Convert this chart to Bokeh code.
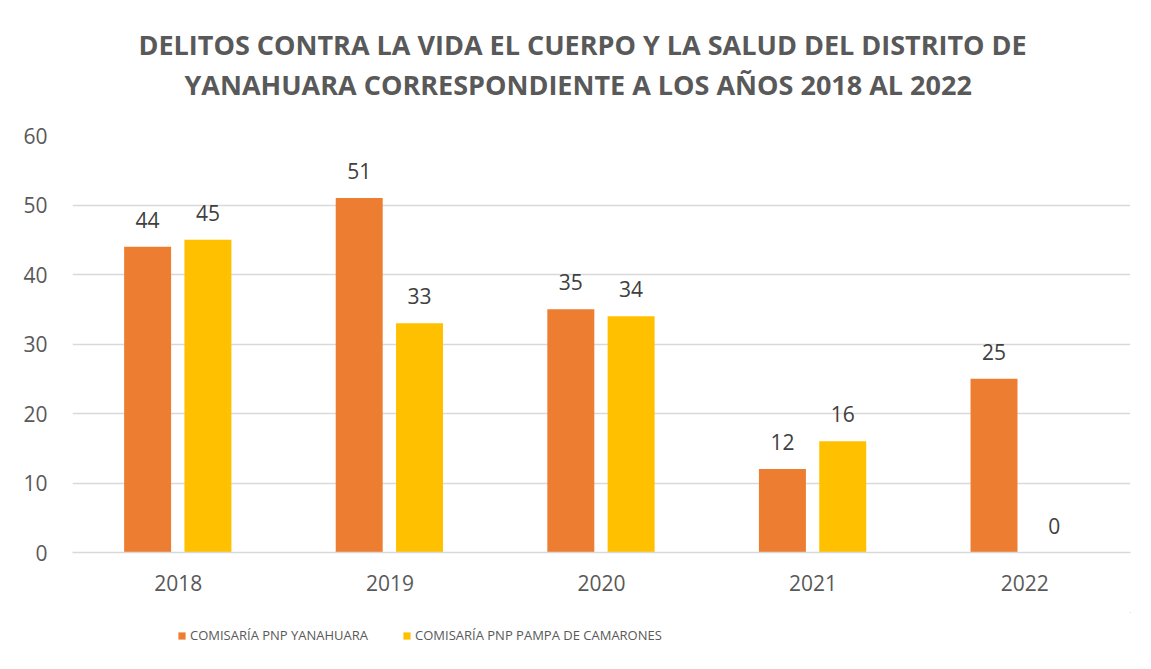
from bokeh.plotting import figure
from bokeh.layouts import column
from bokeh.models import ColumnDataSource, FactorRange, Title, Legend, LegendItem, LabelSet, FixedTicker
from bokeh.core.properties import value
from bokeh.transform import dodge
from bokeh.embed import file_html
from bokeh.resources import INLINE

years = ["2018", "2019", "2020", "2021", "2022"]
yanahuara = [44, 51, 35, 12, 25]
camarones = [45, 33, 34, 16, 0]
series_names = ["COMISARÍA PNP YANAHUARA", "COMISARÍA PNP PAMPA DE CAMARONES"]
title_lines = ["DELITOS CONTRA LA VIDA EL CUERPO Y LA SALUD DEL DISTRITO DE",
               "YANAHUARA CORRESPONDIENTE A LOS AÑOS 2018 AL 2022"]
y_ticks = [0, 10, 20, 30, 40, 50, 60]

ORANGE = "#ED7D31"
YELLOW = "#FFC000"
FONT = "Open Sans"

src = ColumnDataSource(dict(years=years, a=yanahuara, b=camarones,
                            la=[str(v) for v in yanahuara], lb=[str(v) for v in camarones]))

p = figure(x_range=FactorRange(*years), y_range=(0, 60), width=1143, height=612,
           output_backend="svg", toolbar_location=None,
           min_border_left=72, min_border_right=13, min_border_top=135, min_border_bottom=60)
p.x_range.range_padding = 0
p.outline_line_color = None
p.background_fill_color = "white"
p.border_fill_color = "white"

ra = p.vbar(x=dodge("years", -0.145, range=p.x_range), top="a", width=0.222, source=src,
            fill_color=ORANGE, line_color=None)
rb = p.vbar(x=dodge("years", 0.14, range=p.x_range), top="b", width=0.222, source=src,
            fill_color=YELLOW, line_color=None)

for col, lab, off in (("a", "la", -0.145), ("b", "lb", 0.14)):
    p.add_layout(LabelSet(x=dodge("years", off, range=p.x_range), y=col, text=lab, source=src,
                          text_align="center", text_baseline="alphabetic", y_offset=19,
                          text_font=value(FONT), text_font_size=value("21px"),
                          text_color="#404040"))

p.xgrid.grid_line_color = None
p.ygrid.grid_line_color = "#d9d9d9"
p.ygrid.grid_line_width = 1.5
p.yaxis.ticker = FixedTicker(ticks=y_ticks)
for ax in (p.xaxis, p.yaxis):
    ax.axis_line_color = None
    ax.major_tick_line_color = None
    ax.minor_tick_line_color = None
    ax.major_label_text_font = FONT
    ax.major_label_text_font_size = "21px"
    ax.major_label_text_color = "#595959"
p.xaxis.axis_line_color = "#d9d9d9"
p.xaxis.axis_line_width = 1.5
p.yaxis.major_label_standoff = 19
p.xaxis.major_label_standoff = 16

spacer = Title(text=" ", text_font_size="1px", standoff=28)
t2 = Title(text=title_lines[1], align="left", offset=112, text_font=FONT, text_font_size="27px",
           text_font_style="bold", text_color="#595959", standoff=3)
t1 = Title(text=title_lines[0], align="left", offset=66, text_font=FONT, text_font_size="27px",
           text_font_style="bold", text_color="#595959", standoff=0)
p.add_layout(spacer, "above")
p.add_layout(t2, "above")
p.add_layout(t1, "above")

# legend strip below the chart (frame aligned with the chart's frame)
lg = figure(width=1143, height=46, x_range=(-1000, -999), y_range=(-1000, -999),
            output_backend="svg", toolbar_location=None, min_border=0)
lg.axis.visible = False
lg.grid.visible = False
lg.outline_line_color = None
lg.border_fill_color = "white"
lg.background_fill_color = "white"
sw_a = lg.vbar(x="a", top="a", width=0, source=src, fill_color=ORANGE, line_color=None)
sw_b = lg.vbar(x="b", top="b", width=0, source=src, fill_color=YELLOW, line_color=None)
legend = Legend(items=[LegendItem(label=series_names[0], renderers=[sw_a]),
                       LegendItem(label=series_names[1], renderers=[sw_b])],
                orientation="horizontal", location=(105, 14),
                label_text_font=FONT, label_text_font_size="13px", label_text_color="#595959",
                glyph_width=9, glyph_height=9, spacing=34, label_standoff=4,
                border_line_color=None, background_fill_alpha=0, margin=0, padding=0)
lg.add_layout(legend)

layout = column(p, lg, spacing=0)
open("out.html", "w").write(file_html(layout, INLINE))
